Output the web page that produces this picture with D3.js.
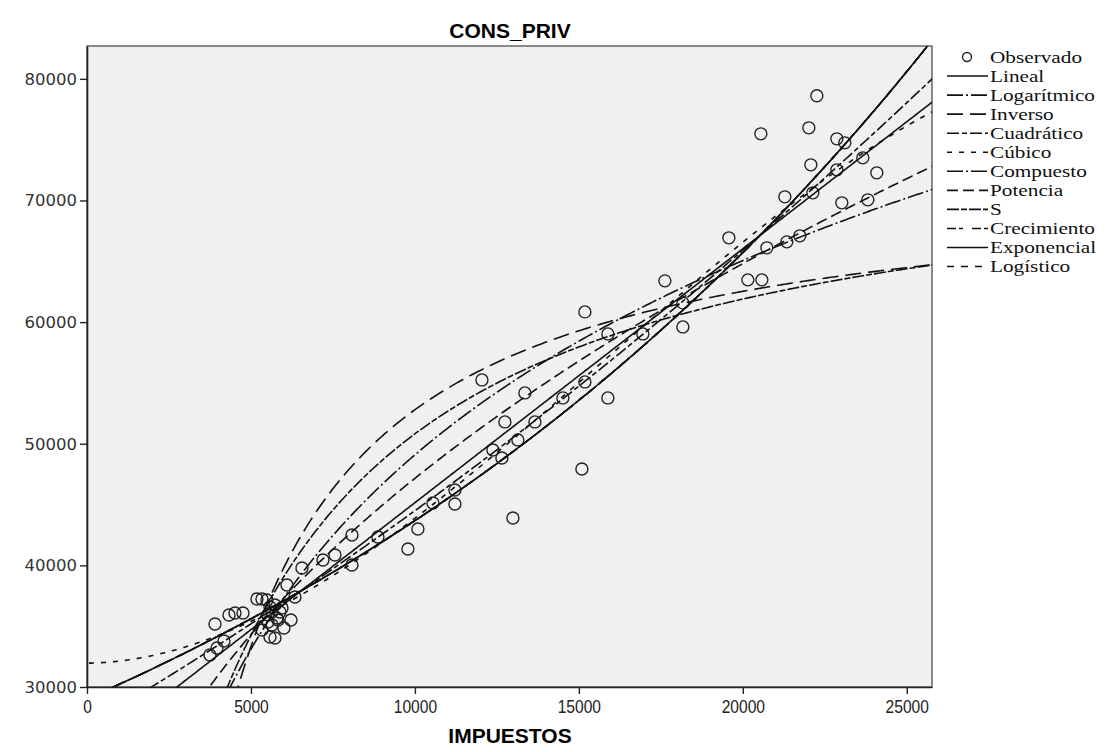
<!DOCTYPE html>
<html>
<head>
<meta charset="utf-8">
<script src="https://cdn.jsdelivr.net/npm/d3@7/dist/d3.min.js"></script>
<style>
  body { margin: 0; background: #fff; }
</style>
</head>
<body>
<div id="chart"></div>
<script>
var obsX = [3750, 3964, 4177, 3903, 4330, 4513, 4757, 5183, 5336, 5488, 5580, 5732, 5885, 5824, 5641,
            5519, 6007, 5580, 5732, 6220, 5336, 6342, 6098, 6555, 7196, 7562, 8080, 8080, 8873, 9787,
            10092, 10550, 11220, 11220, 12989, 15093, 12653, 12379, 13141, 12745, 13660, 14513, 15885, 13355, 15184,
            12044, 15885, 16952, 15184, 18172, 18172, 17623, 20154, 20581, 19575, 20733, 21343, 21739, 21282, 22136,
            23020, 23813, 22075, 22868, 23660, 24087, 20550, 22014, 22868, 23111, 22258,
            5641, 5793, 5946, 5519];
var obsY = [32630, 33207, 33783, 35181, 35921, 36086, 36086, 37237, 37237, 37155, 36580, 36744, 36168, 35510, 35099,
            35921, 34852, 34112, 34030, 35510, 34687, 37402, 38389, 39786, 40444, 40856, 42500, 40033, 42336, 41349,
            42994, 45132, 46201, 45050, 43899, 47928, 48833, 49491, 50314, 51794, 51794, 53767, 53767, 54178, 55083,
            55248, 59031, 59031, 60840, 61580, 59606, 63390, 63472, 63472, 66926, 66104, 66597, 67091, 70298, 70627,
            69804, 70051, 72929, 72518, 73505, 72271, 75479, 75972, 75068, 74739, 78604,
            36168, 35675, 36497, 35345];

var xTicks = [0, 5000, 10000, 15000, 20000, 25000];
var yTicks = [30000, 40000, 50000, 60000, 70000, 80000];

var modelNames = ["Lineal", "Logarítmico", "Inverso", "Cuadrático", "Cúbico", "Compuesto",
                  "Potencia", "S", "Crecimiento", "Exponencial", "Logístico"];
var modelDash  = [null, "16,3,2,3", "16,7", "12,3,5,3", "5,7", "16,3,2,3",
                  "11,5", "12,2,6,2", "9,3,4,9", null, "7,7"];

var width = 1112, height = 752;
var pLeft = 87, pRight = 932, pTop = 46, pBottom = 687;

var x = d3.scaleLinear().domain([0, 25770]).range([pLeft, pRight]);
var y = d3.scaleLinear().domain([30000, 82700]).range([pBottom, pTop]);

// least squares on a set of basis functions
function lstsq(rows, t) {
  var k = rows[0].length, A = [], i, j, r;
  for (i = 0; i < k; i++) {
    A.push([]);
    for (j = 0; j <= k; j++) A[i].push(0);
  }
  rows.forEach(function(row, n) {
    for (i = 0; i < k; i++) {
      for (j = 0; j < k; j++) A[i][j] += row[i] * row[j];
      A[i][k] += row[i] * t[n];
    }
  });
  for (i = 0; i < k; i++) {
    var p = i;
    for (r = i + 1; r < k; r++) if (Math.abs(A[r][i]) > Math.abs(A[p][i])) p = r;
    var tmp = A[i]; A[i] = A[p]; A[p] = tmp;
    for (r = 0; r < k; r++) {
      if (r == i) continue;
      var f = A[r][i] / A[i][i];
      for (j = i; j <= k; j++) A[r][j] -= f * A[i][j];
    }
  }
  return A.map(function(row, i) { return row[k] / row[i]; });
}

function fit(basis, fwd, back) {
  var b = lstsq(obsX.map(basis), obsY.map(fwd));
  return function(v) {
    var s = basis(v).reduce(function(acc, c, i) { return acc + c * b[i]; }, 0);
    return back(s);
  };
}

var id = function(v) { return v; };
var lin  = function(v) { var u = v / 1e4; return [1, u]; };
var logb = function(v) { return [1, Math.log(v)]; };
var invb = function(v) { return [1, 1000 / v]; };
var quad = function(v) { var u = v / 1e4; return [1, u, u * u]; };
var cub  = function(v) { var u = v / 1e4; return [1, u, u * u, u * u * u]; };

var curves = [
  fit(lin, id, id),
  fit(logb, id, id),
  fit(invb, id, id),
  fit(quad, id, id),
  fit(cub, id, id),
  fit(lin, Math.log, Math.exp),
  fit(logb, Math.log, Math.exp),
  fit(invb, Math.log, Math.exp),
  fit(lin, Math.log, Math.exp),
  fit(lin, Math.log, Math.exp),
  fit(lin, function(v) { return Math.log(1 / v); }, function(s) { return 1 / Math.exp(s); })
];

var svg = d3.select("#chart").append("svg")
            .attr("width", width)
            .attr("height", height);

svg.append("rect")
   .attr("x", pLeft).attr("y", pTop)
   .attr("width", pRight - pLeft).attr("height", pBottom - pTop)
   .attr("fill", "#f0f0f0")
   .attr("stroke", "#666")
   .attr("stroke-width", 1.5);

svg.append("clipPath").attr("id", "clip")
   .append("rect")
   .attr("x", pLeft).attr("y", pTop)
   .attr("width", pRight - pLeft).attr("height", pBottom - pTop);

var plot = svg.append("g").attr("clip-path", "url(#clip)");

var xs = d3.range(0, 401).map(function(i) { return 60 + i * (26000 - 60) / 400; });
var line = d3.line()
             .x(function(d) { return x(d[0]); })
             .y(function(d) { return y(Math.max(20000, Math.min(95000, d[1]))); });

plot.selectAll("circle")
    .data(obsX)
    .enter().append("circle")
    .attr("cx", function(d) { return x(d); })
    .attr("cy", function(d, i) { return y(obsY[i]); })
    .attr("r", 6)
    .attr("fill", "none")
    .attr("stroke", "#222")
    .attr("stroke-width", 1.4);

plot.selectAll("path.fit")
    .data(curves)
    .enter().append("path")
    .attr("class", "fit")
    .attr("d", function(f) { return line(xs.map(function(v) { return [v, f(v)]; })); })
    .attr("fill", "none")
    .attr("stroke", "#111")
    .attr("stroke-width", 1.6)
    .attr("stroke-dasharray", function(d, i) { return modelDash[i]; });

// axes
var xAxis = svg.append("g")
   .attr("transform", "translate(0," + pBottom + ")")
   .call(d3.axisBottom(x).tickValues(xTicks).tickSize(7).tickSizeOuter(0).tickFormat(d3.format("d")));
xAxis.select(".domain").attr("stroke", "#222").attr("stroke-width", 1.6);
xAxis.selectAll("line").attr("stroke", "#222").attr("stroke-width", 1.4);
xAxis.selectAll("text")
     .attr("font-family", "'Liberation Sans', sans-serif")
     .attr("font-size", 19).attr("fill", "#222").attr("dy", "0.85em")
     .attr("transform", "scale(0.82,1)");

var yAxis = svg.append("g")
   .attr("transform", "translate(" + pLeft + ",0)")
   .call(d3.axisLeft(y).tickValues(yTicks).tickSize(7).tickSizeOuter(0).tickFormat(d3.format("d")));
yAxis.select(".domain").attr("stroke", "#222").attr("stroke-width", 1.6);
yAxis.selectAll("line").attr("stroke", "#222").attr("stroke-width", 1.4);
yAxis.selectAll("text")
     .attr("font-family", "'DejaVu Sans', sans-serif")
     .attr("font-size", 16.5).attr("fill", "#333");

svg.append("text")
   .attr("x", 510).attr("y", 38)
   .attr("text-anchor", "middle")
   .attr("font-family", "'Liberation Sans', Arial, sans-serif")
   .attr("font-weight", "bold").attr("font-size", 21)
   .text("CONS_PRIV");

svg.append("text")
   .attr("x", 510).attr("y", 743)
   .attr("text-anchor", "middle")
   .attr("font-family", "'Liberation Sans', Arial, sans-serif")
   .attr("font-weight", "bold").attr("font-size", 21)
   .text("IMPUESTOS");

// legend
var legendNames = ["Observado"].concat(modelNames);
var legend = svg.append("g");
legendNames.forEach(function(name, i) {
  var ly = 57 + i * 19.05;
  if (i == 0) {
    legend.append("circle").attr("cx", 967).attr("cy", ly).attr("r", 4.5)
          .attr("fill", "none").attr("stroke", "#222").attr("stroke-width", 1.4);
  } else {
    legend.append("line").attr("x1", 947).attr("x2", 988).attr("y1", ly).attr("y2", ly)
          .attr("stroke", "#111").attr("stroke-width", 1.6)
          .attr("stroke-dasharray", modelDash[i - 1]);
  }
  legend.append("text")
        .attr("transform", "translate(990," + (ly + 5.5) + ") scale(1.25,1)")
        .attr("font-family", "'Liberation Serif', 'Times New Roman', serif")
        .attr("font-size", 17).attr("fill", "#111")
        .text(name);
});
</script>
</body>
</html>
